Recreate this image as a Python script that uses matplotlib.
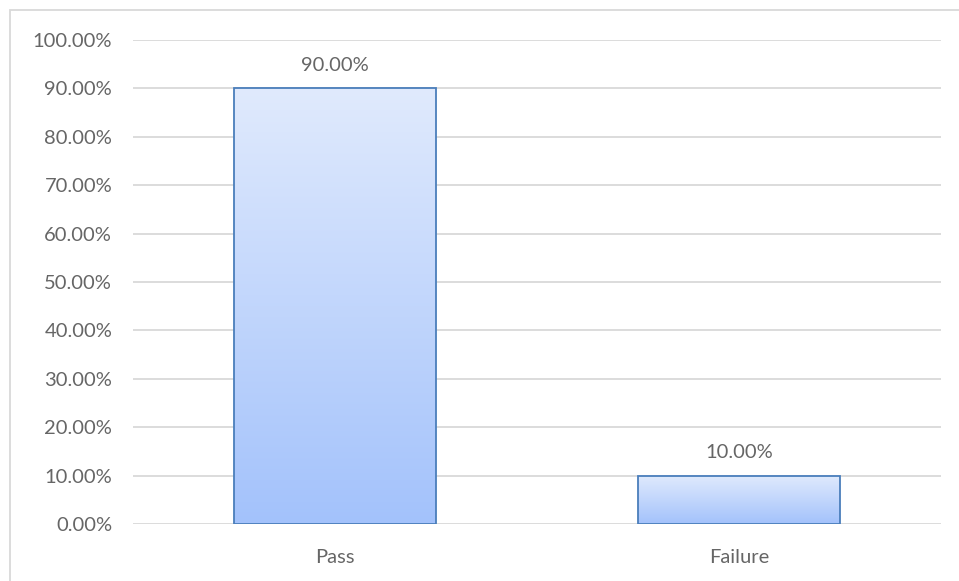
import numpy as np
import matplotlib
matplotlib.use("Agg")
import matplotlib.pyplot as plt
from matplotlib.colors import LinearSegmentedColormap
from matplotlib.patches import Rectangle
from matplotlib.ticker import PercentFormatter

categories = ["Pass", "Failure"]
rates = [90.0, 10.0]
yticks = np.arange(0, 101, 10)

TEXT = "#666666"
GRID = "#d9d9d9"
EDGE = "#4a7ebb"
TOP = "#e0eafd"
BOTTOM = "#a3c2fb"

plt.rcParams["font.family"] = ["Lato", "DejaVu Sans"]

W, H = 959, 581
fig = plt.figure(figsize=(W / 100, H / 100), dpi=100)
ax = fig.add_axes([133 / W, 1 - 524 / H, 808 / W, 484 / H])

# chart outline like an Excel chart area
fig.patches.append(Rectangle((10 / W, -0.01), 1.0, 1 - 10 / H + 0.01,
                             transform=fig.transFigure, fill=False,
                             edgecolor=GRID, linewidth=1.3, zorder=0))

x = np.arange(len(categories))
bars = ax.bar(x, rates, width=0.5, color="none", edgecolor=EDGE,
              linewidth=1.3, zorder=4)

cmap = LinearSegmentedColormap.from_list("g", [BOTTOM, TOP])
grad = np.linspace(0, 1, 256).reshape(-1, 1)
for b in bars:
    x0, y0 = b.get_x(), b.get_y()
    ax.imshow(grad, cmap=cmap, origin="lower", aspect="auto",
              extent=[x0, x0 + b.get_width(), y0, y0 + b.get_height()],
              zorder=3)

for xi, v in zip(x, rates):
    ax.text(xi, v + 3.0, f"{v:.2f}%", ha="center", va="bottom",
            fontsize=14.5, color=TEXT)

ax.set_xlim(-0.5, 1.5)
ax.set_ylim(0, 100)
ax.set_yticks(yticks)
ax.yaxis.set_major_formatter(PercentFormatter(decimals=2))
ax.set_xticks(x)
ax.set_xticklabels(categories)
ax.tick_params(length=0, labelsize=14.5, labelcolor=TEXT)
ax.tick_params(axis="y", pad=15)
ax.tick_params(axis="x", pad=18)
ax.grid(axis="y", color=GRID, linewidth=1.3, zorder=0)
ax.set_axisbelow(True)
for s in ax.spines.values():
    s.set_visible(False)

fig.savefig("out.png", dpi=100, facecolor="white")
